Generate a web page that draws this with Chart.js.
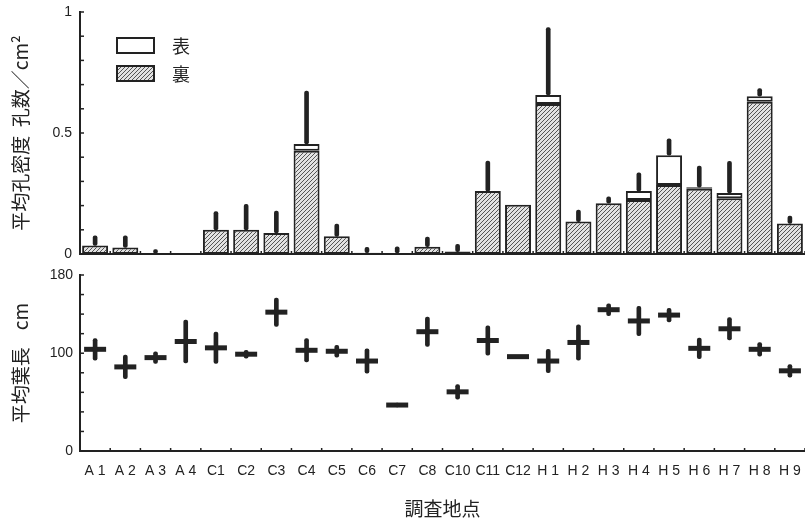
<!DOCTYPE html>
<html lang="ja">
<head>
<meta charset="utf-8" />
<title>平均孔密度と平均葉長</title>
<script src="https://cdn.jsdelivr.net/npm/chart.js@4/dist/chart.umd.min.js"></script>
<style>
  html, body { margin: 0; padding: 0; background: #fff; }
  #wrap { position: relative; width: 805px; height: 522px; }
  #top-box { position: absolute; left: 0; top: 0; }
  #bottom-box { position: absolute; left: 0; top: 262px; }
</style>
</head>
<body>
<div id="wrap">
  <div id="top-box"><canvas id="holeChart" width="805" height="262"></canvas></div>
  <div id="bottom-box"><canvas id="leafChart" width="805" height="260"></canvas></div>
</div>
<script>
  // survey sites
  const sites = ['A 1', 'A 2', 'A 3', 'A 4', 'C1', 'C2', 'C3', 'C4', 'C5', 'C6', 'C7', 'C8',
                 'C10', 'C11', 'C12', 'H 1', 'H 2', 'H 3', 'H 4', 'H 5', 'H 6', 'H 7', 'H 8', 'H 9'];

  // mean hole density (holes / cm2), back side (裏) and front side (表)
  const backDensity  = [0.035, 0.027, 0.003, 0, 0.10, 0.10, 0.087, 0.427, 0.073, 0.005, 0.004, 0.03,
                        0.01, 0.26, 0.203, 0.62, 0.134, 0.21, 0.223, 0.285, 0.27, 0.23, 0.629, 0.126];
  const frontDensity = [0, 0, 0, 0, 0, 0, 0, 0.028, 0, 0, 0, 0,
                        0, 0, 0, 0.037, 0, 0, 0.037, 0.123, 0.006, 0.022, 0.023, 0];
  const densityErr   = [0.04, 0.048, 0.015, 0, 0.075, 0.105, 0.09, 0.218, 0.051, 0.023, 0.026, 0.04,
                        0.03, 0.124, 0, 0.279, 0.048, 0.026, 0.075, 0.068, 0.087, 0.131, 0.032, 0.031];

  // mean leaf length (cm) and its spread
  const leafMean = [104, 86, 95.5, 112, 105.5, 99, 142, 103, 102, 92, 47, 122,
                    60.5, 113, 96.5, 92, 111, 144.5, 133, 139, 105, 125, 104, 82];
  const leafErr  = [11, 12, 6, 22, 16, 4, 14.5, 12, 6, 12.5, 2, 15,
                    7.5, 15, 0, 12, 18, 6, 15, 7, 10.5, 11.5, 7, 6.5];

  const densityLabels = { 0: '0', 0.5: '0.5', 1: '1' };
  const leafLabels = { 0: '0', 100: '100', 180: '180' };

  const INK = '#222';
  const LATIN = '"Liberation Sans", Arial, sans-serif';
  const CJK = '"Noto Sans CJK JP", sans-serif';

  function makeHatch() {
    const c = document.createElement('canvas');
    c.width = 4; c.height = 4;
    const g = c.getContext('2d');
    g.fillStyle = '#e2e2e2';
    g.fillRect(0, 0, 4, 4);
    g.strokeStyle = '#555';
    g.lineWidth = 1;
    g.beginPath();
    g.moveTo(0, 4); g.lineTo(4, 0);
    g.moveTo(-1, 1); g.lineTo(1, -1);
    g.moveTo(3, 5); g.lineTo(5, 3);
    g.stroke();
    return g.createPattern(c, 'repeat');
  }
  const hatch = makeHatch();

  // small inward ticks on the value axis and between the sites
  const innerTicks = {
    id: 'innerTicks',
    afterDraw(chart) {
      const { ctx, scales: { x, y } } = chart;
      ctx.save();
      ctx.strokeStyle = INK;
      ctx.lineWidth = 1.5;
      y.ticks.forEach(t => {
        const py = y.getPixelForValue(t.value);
        ctx.beginPath();
        ctx.moveTo(x.left, py);
        ctx.lineTo(x.left + 4, py);
        ctx.stroke();
      });
      const half = (x.getPixelForValue(1) - x.getPixelForValue(0)) / 2;
      for (let i = 1; i <= sites.length; i++) {
        const px = x.getPixelForValue(i) - half;
        ctx.beginPath();
        ctx.moveTo(px, y.bottom);
        ctx.lineTo(px, y.bottom - 3);
        ctx.stroke();
      }
      ctx.restore();
    }
  };

  // key for 表 / 裏 inside the plot
  const keyBoxes = {
    id: 'keyBoxes',
    afterDraw(chart) {
      const { ctx, chartArea: a } = chart;
      const items = [{ text: '表', fill: '#fff' }, { text: '裏', fill: hatch }];
      ctx.save();
      items.forEach((it, i) => {
        const bx = a.left + 37, by = a.top + 26 + i * 28;
        ctx.fillStyle = it.fill;
        ctx.fillRect(bx, by, 37, 15);
        ctx.strokeStyle = INK;
        ctx.lineWidth = 2;
        ctx.strokeRect(bx, by, 37, 15);
        ctx.fillStyle = INK;
        ctx.font = '18px ' + CJK;
        ctx.textBaseline = 'middle';
        ctx.fillText(it.text, bx + 55, by + 8);
      });
      ctx.restore();
    }
  };

  const tickFont = { family: LATIN, size: 14 };
  const titleFont = { family: CJK, size: 19 };

  const frontFloat = backDensity.map((b, i) => frontDensity[i] > 0 ? [b, b + frontDensity[i]] : null);
  const errFloat = backDensity.map((b, i) => {
    const top = b + frontDensity[i];
    return densityErr[i] > 0 ? [top, top + densityErr[i]] : null;
  });

  new Chart(document.getElementById('holeChart'), {
    type: 'bar',
    data: {
      labels: sites,
      datasets: [
        { label: '裏', data: backDensity, backgroundColor: hatch, borderColor: INK, borderWidth: 2,
          borderSkipped: false, grouped: false, barPercentage: 0.86, categoryPercentage: 1 },
        { label: '表', data: frontFloat, backgroundColor: '#fff', borderColor: INK, borderWidth: 2,
          borderSkipped: false, grouped: false, barPercentage: 0.86, categoryPercentage: 1 },
        { label: 'SD', data: errFloat, backgroundColor: INK, barThickness: 4, borderRadius: 2,
          borderSkipped: false, grouped: false }
      ]
    },
    options: {
      responsive: false,
      animation: false,
      devicePixelRatio: 1,
      layout: { autoPadding: false, padding: { left: 0, right: 0, top: 12, bottom: 0 } },
      plugins: { legend: { display: false }, tooltip: { enabled: false } },
      scales: {
        x: {
          grid: { display: false, drawTicks: false },
          ticks: { display: false },
          border: { color: INK, width: 2 },
          afterFit(s) { s.height = 8; s.paddingLeft = 0; s.paddingRight = 0; }
        },
        y: {
          min: 0, max: 1,
          grid: { display: false, drawTicks: false },
          border: { color: INK, width: 2 },
          ticks: {
            stepSize: 0.1, padding: 8, color: INK, font: tickFont, autoSkip: false,
            callback: v => densityLabels[Math.round(v * 10) / 10] || ''
          },
          title: { display: true, text: '平均孔密度  孔数／cm²', color: INK, font: titleFont,
                   padding: { top: 9, bottom: 0 } },
          afterFit(s) { s.width = 80; s.paddingTop = 0; s.paddingBottom = 0; }
        }
      }
    },
    plugins: [innerTicks, keyBoxes]
  });

  const leafRange = leafMean.map((m, i) => leafErr[i] > 0 ? [m - leafErr[i], m + leafErr[i]] : null);

  new Chart(document.getElementById('leafChart'), {
    type: 'bar',
    data: {
      labels: sites,
      datasets: [
        { type: 'bar', label: 'SD', data: leafRange, backgroundColor: INK, barThickness: 4,
          borderRadius: 2, borderSkipped: false, grouped: false },
        { type: 'line', label: '平均葉長', data: leafMean, showLine: false, pointStyle: 'line',
          pointRadius: 11, pointBorderWidth: 5, borderColor: INK, pointBorderColor: INK }
      ]
    },
    options: {
      responsive: false,
      animation: false,
      devicePixelRatio: 1,
      layout: { autoPadding: false, padding: { left: 0, right: 0, top: 13, bottom: 0 } },
      plugins: { legend: { display: false }, tooltip: { enabled: false } },
      scales: {
        x: {
          grid: { display: false, drawTicks: false },
          border: { color: INK, width: 2 },
          ticks: { padding: 12, color: INK, font: tickFont, autoSkip: false, maxRotation: 0 },
          title: { display: true, text: '調査地点', color: INK, font: titleFont,
                   padding: { top: 0, bottom: 2 } },
          afterFit(s) { s.height = 71; s.paddingLeft = 0; s.paddingRight = 0; }
        },
        y: {
          min: 0, max: 180,
          grid: { display: false, drawTicks: false },
          border: { color: INK, width: 2 },
          ticks: {
            stepSize: 20, padding: 7, color: INK, font: tickFont, autoSkip: false,
            callback: v => leafLabels[v] || ''
          },
          title: { display: true, text: '平均葉長    cm', color: INK, font: titleFont,
                   padding: { top: 9, bottom: 0 } },
          afterFit(s) { s.width = 80; s.paddingTop = 0; s.paddingBottom = 0; }
        }
      }
    },
    plugins: [innerTicks]
  });
</script>
</body>
</html>
